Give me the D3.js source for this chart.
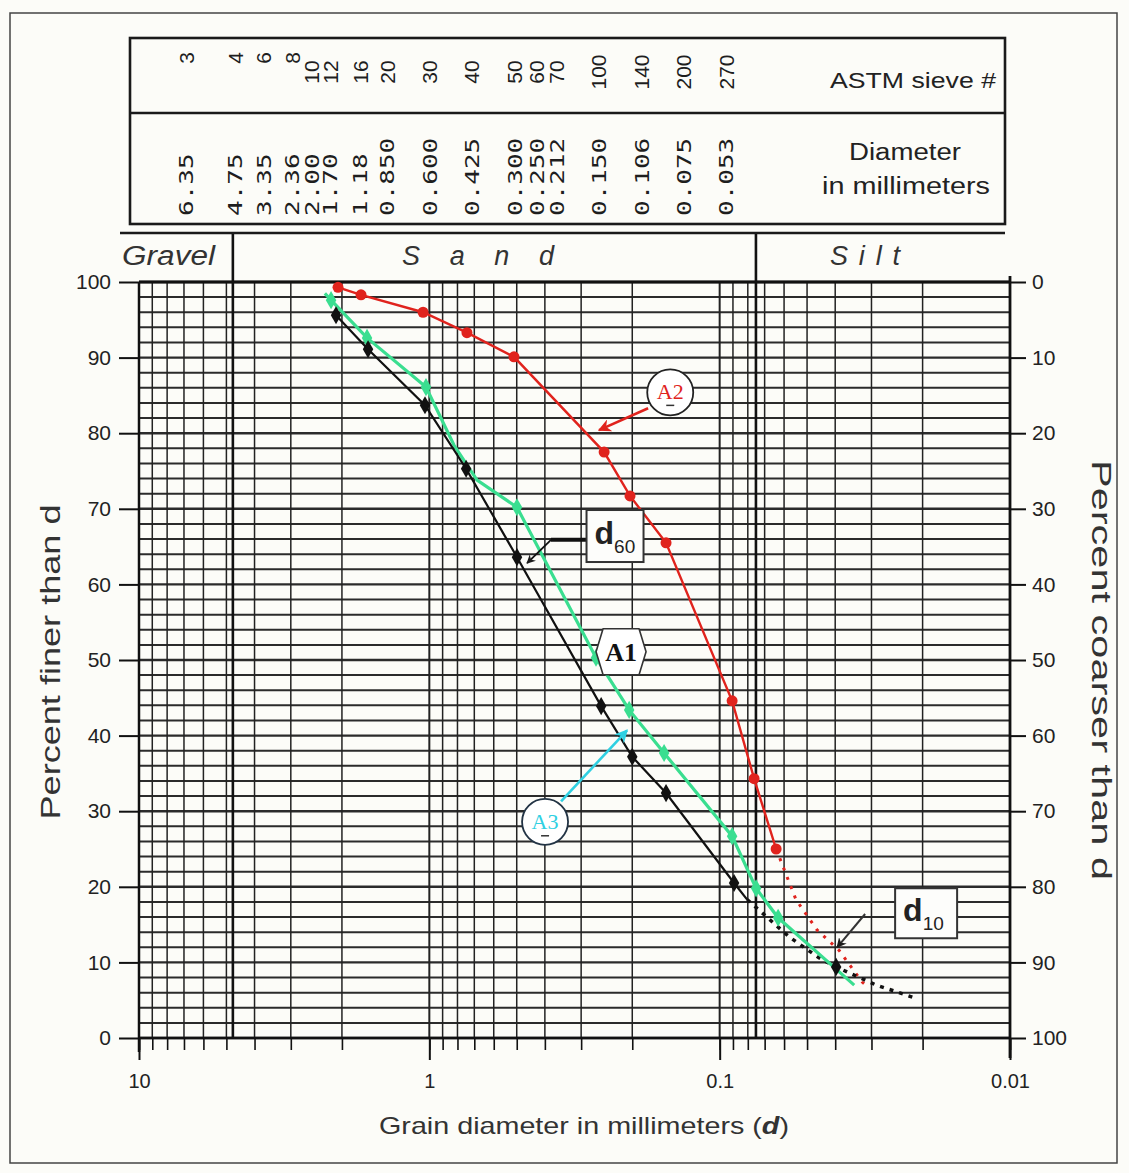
<!DOCTYPE html>
<html><head><meta charset="utf-8">
<script src="https://cdn.jsdelivr.net/npm/d3@7"></script>
<style>body{margin:0;background:#fff}svg{display:block}</style>
</head><body>
<svg id="c" width="1129" height="1173"></svg>
<script>
// ---------- data ----------
const sieveNumbers   = ["3","4","6","8","10","12","16","20","30","40","50","60","70","100","140","200","270"];
const sieveDiameters = ["6.35","4.75","3.35","2.36","2.00","1.70","1.18","0.850","0.600","0.425","0.300","0.250","0.212","0.150","0.106","0.075","0.053"];
const soilBoundaries = [4.75, 0.075];
const leftTicks  = [0,10,20,30,40,50,60,70,80,90,100];
const rightTicks = [0,10,20,30,40,50,60,70,80,90,100];
const xTickLabels = [10, 1, 0.1, 0.01];

// [diameter mm, percent finer]
const a1Points = [[2.096,95.6],[1.626,91.1],[1.035,83.7],[0.747,75.3],[0.499,63.6],[0.256,43.9],[0.200,37.2],[0.153,32.4],[0.0892,20.5]];
const a1Solid  = [[2.096,95.6],[1.626,91.1],[1.035,83.7],[0.747,75.3],[0.499,63.6],[0.256,43.9],[0.200,37.2],[0.153,32.4],[0.0892,20.5],[0.0804,18.3]];
const a1Dotted = [[0.0804,18.3],[0.0577,13.4],[0.0455,10.6],[0.0397,9.4],[0.0289,7.0],[0.0209,5.2]];
const a1D10Point = [[0.0397,9.4]];

const a2Points = [[2.063,99.3],[1.719,98.3],[1.051,96.0],[0.742,93.3],[0.511,90.1],[0.250,77.5],[0.2036,71.7],[0.153,65.5],[0.0906,44.6],[0.0761,34.3],[0.0639,25.0]];
const a2Dotted = [[0.0639,25.0],[0.0546,18.3],[0.0462,14.3],[0.0388,11.6],[0.0323,7.4],[0.0305,6.6]];

const a3Points = [[2.18,97.6],[1.639,92.6],[1.027,86.1],[0.499,70.2],[0.2666,50.3],[0.205,43.4],[0.1554,37.7],[0.0906,26.7],[0.0749,19.8],[0.0629,15.9]];
const a3Line   = [[2.29,98.5],[2.18,97.6],[1.639,92.6],[1.027,86.1],[0.822,78.4],[0.685,73.8],[0.499,70.2],[0.2666,50.3],[0.205,43.4],[0.1554,37.7],[0.0906,26.7],[0.0749,19.8],[0.0629,15.9],[0.0344,7.0]];

// annotation anchors in data coords
const noteA2 = {c:[0.148,85.4], from:[0.1764,83.3], to:[0.2603,80.4]};
const noteA1 = {c:[0.2186,51.1]};
const noteA3 = {c:[0.3994,28.6], from:[0.3518,31.3], to:[0.2084,40.7]};
const noteD60 = {c:[0.2293,66.4], bar:[[0.2862,65.9],[0.381,65.9]], to:[0.4606,62.8]};
const noteD10 = {c:[0.01945,16.5], from:[0.03155,16.4], to:[0.0394,12.0]};

// ---------- setup ----------
const svg = d3.select("#c");
const SANS = "'Liberation Sans', Arial, sans-serif";
const RED = "#e0231d", GREEN = "#3ade90", CYAN = "#2fd0e2", INK = "#1c1c1c";

const x = d3.scaleLog().domain([10, 0.01]).range([139, 1010]);
const y = d3.scaleLinear().domain([0, 100]).range([1038, 282]);
const yR = d3.scaleLinear().domain([100, 0]).range([1038, 282]);
// header columns (table layout, not to the log scale)
const hx = d3.scaleLog().domain([6.35, 4.75, 2.36, 1.70, 0.85, 0.053]).range([186, 235, 292, 330, 387, 726]);
const P = d => [x(d[0]), y(d[1])];

svg.append("rect").attr("width",1129).attr("height",1173).attr("fill","#fcfcf8");

const defs = svg.append("defs");
function arrow(id, color){
  defs.append("marker").attr("id",id).attr("viewBox","0 0 10 10").attr("refX",9).attr("refY",5)
    .attr("markerWidth",5).attr("markerHeight",5).attr("orient","auto-start-reverse")
    .append("path").attr("d","M0,0 L10,5 L0,10 L3,5 Z").attr("fill",color);
}
arrow("arRed", RED); arrow("arCyan", CYAN); arrow("arInk", INK);

// outer frame
svg.append("rect").attr("x",10).attr("y",13).attr("width",1107).attr("height",1150)
  .attr("fill","none").attr("stroke","#444").attr("stroke-width",1.5);

// ---------- grid ----------
const grid = svg.append("g");
const hVals = d3.range(0, 101, 2);
grid.selectAll("line.h").data(hVals).join("line")
  .attr("x1", x(10)).attr("x2", x(0.01))
  .attr("y1", d => y(d)).attr("y2", d => y(d))
  .attr("stroke", "#2b2b2b").attr("stroke-width", d => d % 10 === 0 ? 2.4 : 2);

const vVals = [];
[0, -1, -2].forEach(k => { for (let m = 1; m <= 9; m++) vVals.push(m * Math.pow(10, k)); });
vVals.push(10);
grid.selectAll("line.v").data(vVals).join("line")
  .attr("x1", d => x(d)).attr("x2", d => x(d))
  .attr("y1", y(100)).attr("y2", y(0))
  .attr("stroke", "#222").attr("stroke-width", d => [10,1,0.1,0.01].includes(+d.toPrecision(3)) ? 2 : 1.5);

// soil boundaries
grid.selectAll("line.b").data(soilBoundaries).join("line")
  .attr("x1", d => x(d)).attr("x2", d => x(d))
  .attr("y1", 233).attr("y2", y(0))
  .attr("stroke", "#111").attr("stroke-width", 2.6);

// axes frame
svg.append("line").attr("x1",x(10)).attr("x2",x(10)).attr("y1",y(100)).attr("y2",y(0)+14).attr("stroke","#111").attr("stroke-width",2.5);
svg.append("line").attr("x1",x(0.01)).attr("x2",x(0.01)).attr("y1",y(100)-6).attr("y2",y(0)+20).attr("stroke","#111").attr("stroke-width",2.8);
svg.append("line").attr("x1",x(10)).attr("x2",x(0.01)).attr("y1",y(100)).attr("y2",y(100)).attr("stroke","#111").attr("stroke-width",2.8);
svg.append("line").attr("x1",x(10)).attr("x2",x(0.01)).attr("y1",y(0)).attr("y2",y(0)).attr("stroke","#111").attr("stroke-width",2.6);

// ---------- axes ----------
function styleAxis(g, size){
  g.select(".domain").remove();
  g.selectAll(".tick line").attr("stroke","#111").attr("stroke-width",2);
  g.selectAll(".tick text").attr("font-family",SANS).attr("font-size",size).attr("fill","#222");
}
svg.append("g").attr("transform",`translate(${x(10)},0)`)
  .call(d3.axisLeft(y).tickValues(leftTicks).tickSize(20).tickPadding(8))
  .call(g => styleAxis(g, 21));
svg.append("g").attr("transform",`translate(${x(0.01)},0)`)
  .call(d3.axisRight(yR).tickValues(rightTicks).tickSize(16).tickPadding(6))
  .call(g => styleAxis(g, 21));
svg.append("g").attr("transform",`translate(0,${y(0)})`)
  .call(d3.axisBottom(x).tickValues(vVals).tickSize(12).tickFormat(""))
  .call(g => styleAxis(g, 20)).call(g => g.selectAll(".tick line").attr("stroke-width",1.6));
svg.append("g").attr("transform",`translate(0,${y(0)})`)
  .call(d3.axisBottom(x).tickValues(xTickLabels).tickSize(22).tickPadding(14).tickFormat(d => String(d)))
  .call(g => styleAxis(g, 20));

// axis titles
svg.append("text").attr("transform",`translate(60,${(y(0)+y(100))/2+2}) rotate(-90)`)
  .attr("text-anchor","middle").attr("font-family",SANS).attr("font-size",27).attr("fill","#333")
  .attr("textLength",315).attr("lengthAdjust","spacingAndGlyphs").text("Percent finer than d");
svg.append("text").attr("transform",`translate(1092,${(y(0)+y(100))/2+10}) rotate(90)`)
  .attr("text-anchor","middle").attr("font-family",SANS).attr("font-size",27).attr("fill","#333")
  .attr("textLength",420).attr("lengthAdjust","spacingAndGlyphs").text("Percent coarser than d");
const bt = svg.append("text").attr("x",584).attr("y",1134).attr("text-anchor","middle")
  .attr("font-family",SANS).attr("font-size",24).attr("fill","#333")
  .attr("textLength",410).attr("lengthAdjust","spacingAndGlyphs");
bt.append("tspan").text("Grain diameter in millimeters (");
bt.append("tspan").attr("font-style","italic").attr("font-weight","bold").text("d");
bt.append("tspan").text(")");

// ---------- header table ----------
const hdr = svg.append("g");
hdr.append("rect").attr("x",130).attr("y",38).attr("width",875).attr("height",186)
  .attr("fill","none").attr("stroke","#1a1a1a").attr("stroke-width",2.6);
hdr.append("line").attr("x1",130).attr("x2",1005).attr("y1",113).attr("y2",113).attr("stroke","#1a1a1a").attr("stroke-width",2.4);
hdr.append("line").attr("x1",120).attr("x2",1005).attr("y1",233).attr("y2",233).attr("stroke","#1a1a1a").attr("stroke-width",2.4);

hdr.selectAll("text.sn").data(sieveNumbers).join("text")
  .attr("transform",(d,i) => `translate(${hx(+sieveDiameters[i])},${d.length===1?58:72}) rotate(-90)`)
  .attr("text-anchor","middle").attr("dominant-baseline","central")
  .attr("font-family",SANS).attr("font-size",21).attr("fill","#1e1e1e").text(d => d);
hdr.selectAll("text.sd").data(sieveDiameters).join("text")
  .attr("transform",d => `translate(${hx(+d)},216) rotate(-90) scale(1.3,1)`)
  .attr("text-anchor","start").attr("dominant-baseline","central")
  .attr("font-family","'DejaVu Sans Mono', 'Liberation Mono', monospace").attr("font-size",20)
  .attr("fill","#1e1e1e").text(d => d);

hdr.append("text").attr("x",913).attr("y",88).attr("text-anchor","middle").attr("font-family",SANS)
  .attr("font-size",22).attr("fill","#222").attr("textLength",166).attr("lengthAdjust","spacingAndGlyphs").text("ASTM sieve #");
hdr.append("text").attr("x",905).attr("y",160).attr("text-anchor","middle").attr("font-family",SANS)
  .attr("font-size",23).attr("fill","#222").attr("textLength",112).attr("lengthAdjust","spacingAndGlyphs").text("Diameter");
hdr.append("text").attr("x",906).attr("y",194).attr("text-anchor","middle").attr("font-family",SANS)
  .attr("font-size",23).attr("fill","#222").attr("textLength",168).attr("lengthAdjust","spacingAndGlyphs").text("in millimeters");

// soil class band
const band = svg.append("g").attr("font-family",SANS).attr("font-style","italic").attr("font-size",27).attr("fill","#333");
band.append("text").attr("x",122).attr("y",265).attr("textLength",93).attr("lengthAdjust","spacingAndGlyphs").text("Gravel");
band.append("text").attr("x",402).attr("y",265).attr("textLength",152).attr("lengthAdjust","spacing").text("Sand");
band.append("text").attr("x",830).attr("y",265).attr("textLength",70).attr("lengthAdjust","spacing").text("Silt");

// ---------- series ----------
const line = d3.line().x(d => x(d[0])).y(d => y(d[1]));
const plot = svg.append("g");

plot.append("path").attr("d",line(a2Dotted)).attr("fill","none").attr("stroke",RED).attr("stroke-width",3).attr("stroke-dasharray","3 7");
plot.append("path").attr("d",line(a1Dotted)).attr("fill","none").attr("stroke","#111").attr("stroke-width",3.5).attr("stroke-dasharray","4 6");
plot.append("path").attr("d",line(a3Line)).attr("fill","none").attr("stroke",GREEN).attr("stroke-width",3.2);
plot.append("path").attr("d",line(a1Solid)).attr("fill","none").attr("stroke","#111").attr("stroke-width",2.2);
plot.append("path").attr("d",line(a2Points)).attr("fill","none").attr("stroke",RED).attr("stroke-width",2.4);

const diamond = d3.symbol().type(d3.symbolDiamond).size(95);
plot.selectAll("path.g").data(a3Points).join("path")
  .attr("transform",d => `translate(${x(d[0])},${y(d[1])})`).attr("d",diamond).attr("fill",GREEN);
plot.selectAll("path.k").data(a1Points.concat(a1D10Point)).join("path")
  .attr("transform",d => `translate(${x(d[0])},${y(d[1])})`).attr("d",diamond).attr("fill","#111");
plot.selectAll("circle.r").data(a2Points).join("circle")
  .attr("cx",d => x(d[0])).attr("cy",d => y(d[1])).attr("r",5.5).attr("fill",RED);

// ---------- annotations ----------
const ann = svg.append("g");
// A2
ann.append("line").attr("x1",P(noteA2.from)[0]).attr("y1",P(noteA2.from)[1]).attr("x2",P(noteA2.to)[0]).attr("y2",P(noteA2.to)[1])
  .attr("stroke",RED).attr("stroke-width",2.6).attr("marker-end","url(#arRed)");
const gA2 = ann.append("g").attr("transform",`translate(${P(noteA2.c)})`);
gA2.append("circle").attr("r",23).attr("fill","#fff").attr("stroke","#222").attr("stroke-width",1.8);
gA2.append("text").attr("y",7).attr("text-anchor","middle").attr("font-family","'Liberation Serif', serif").attr("font-size",22).attr("fill",RED).text("A2");
gA2.append("line").attr("x1",-4).attr("x2",4).attr("y1",13).attr("y2",13).attr("stroke","#333").attr("stroke-width",1.5);
// A3
ann.append("line").attr("x1",P(noteA3.from)[0]).attr("y1",P(noteA3.from)[1]).attr("x2",P(noteA3.to)[0]).attr("y2",P(noteA3.to)[1])
  .attr("stroke",CYAN).attr("stroke-width",2.6).attr("marker-end","url(#arCyan)");
const gA3 = ann.append("g").attr("transform",`translate(${P(noteA3.c)})`);
gA3.append("circle").attr("r",23).attr("fill","#fff").attr("stroke","#234").attr("stroke-width",1.8);
gA3.append("text").attr("y",7).attr("text-anchor","middle").attr("font-family","'Liberation Serif', serif").attr("font-size",22).attr("fill",CYAN).text("A3");
gA3.append("line").attr("x1",-4).attr("x2",4).attr("y1",14).attr("y2",14).attr("stroke","#333").attr("stroke-width",1.5);
// A1
const gA1 = ann.append("g").attr("transform",`translate(${P(noteA1.c)})`);
gA1.append("path").attr("d","M-18,-23 L18,-23 L25,0 L18,23 L-18,23 L-25,0 Z")
  .attr("fill","#fff").attr("stroke","#333").attr("stroke-width",1.6).attr("stroke-linejoin","round");
gA1.append("text").attr("y",9).attr("text-anchor","middle").attr("font-family","'Liberation Serif', serif").attr("font-weight","bold").attr("font-size",26).attr("fill","#111").text("A1");
// d60
ann.append("path").attr("d",line(noteD60.bar)).attr("stroke","#111").attr("stroke-width",4);
ann.append("line").attr("x1",P(noteD60.bar[1])[0]).attr("y1",P(noteD60.bar[1])[1]).attr("x2",P(noteD60.to)[0]).attr("y2",P(noteD60.to)[1])
  .attr("stroke","#111").attr("stroke-width",1.8).attr("marker-end","url(#arInk)");
function dBox(c, sub, w, h){
  const g = ann.append("g").attr("transform",`translate(${P(c)})`);
  g.append("rect").attr("x",-w/2).attr("y",-h/2).attr("width",w).attr("height",h).attr("fill","#fdfdfb").attr("stroke","#333").attr("stroke-width",2);
  const t = g.append("text").attr("x",-w/2+8).attr("y",8).attr("font-family",SANS).attr("font-weight","bold").attr("fill","#222");
  t.append("tspan").attr("font-size",32).text("d");
  t.append("tspan").attr("font-size",19).attr("font-weight","normal").attr("dy",9).text(sub);
}
dBox(noteD60.c, "60", 57, 52);
// d10
ann.append("line").attr("x1",P(noteD10.from)[0]).attr("y1",P(noteD10.from)[1]).attr("x2",P(noteD10.to)[0]).attr("y2",P(noteD10.to)[1])
  .attr("stroke","#333").attr("stroke-width",2).attr("marker-end","url(#arInk)");
dBox(noteD10.c, "10", 62, 50);
</script>
</body></html>
